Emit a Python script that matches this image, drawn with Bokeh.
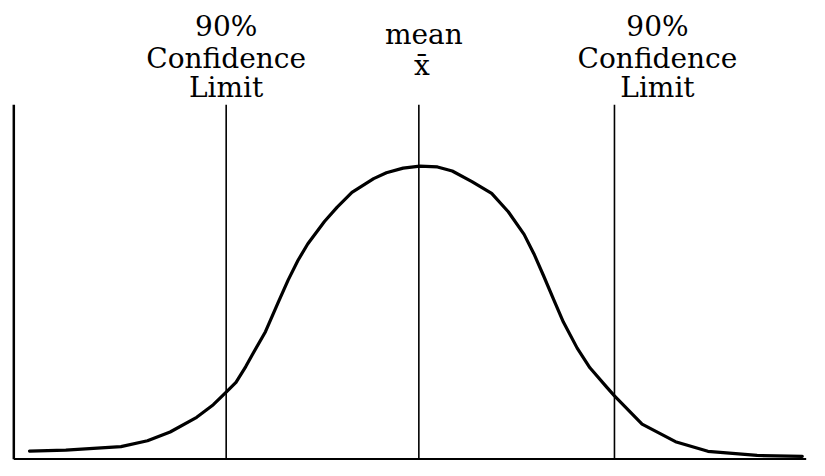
from bokeh.plotting import figure
from bokeh.models import Range1d
from bokeh.embed import file_html
from bokeh.resources import INLINE
from bokeh.core.properties import value

# Curve: x in standard units from the mean, y relative to the peak
curve_x = [-3.300, -2.992, -2.525, -2.300, -2.108, -1.883, -1.742, -1.633, -1.550,
           -1.467, -1.408, -1.300, -1.192, -1.108, -1.025, -0.942, -0.800, -0.692,
           -0.567, -0.383, -0.275, -0.133, 0.008, 0.158, 0.283, 0.450, 0.617, 0.758,
           0.892, 0.975, 1.058, 1.142, 1.225, 1.342, 1.450, 1.592, 1.658, 1.892,
           2.175, 2.450, 2.867, 3.250]
curve_y = [0.028, 0.031, 0.043, 0.063, 0.093, 0.143, 0.186, 0.229, 0.262,
           0.316, 0.359, 0.435, 0.535, 0.611, 0.678, 0.734, 0.811, 0.860,
           0.910, 0.957, 0.977, 0.993, 1.000, 0.997, 0.983, 0.947, 0.907, 0.844,
           0.767, 0.701, 0.625, 0.545, 0.468, 0.379, 0.312, 0.246, 0.216, 0.120,
           0.060, 0.027, 0.013, 0.010]

# Reference lines (lower limit, mean, upper limit)
ref_x = [-1.633, 0.0, 1.658]

# Texts
limit_label = ["90%", "Confidence", "Limit"]
mean_label = ["mean", "x\u0304"]

# Frame extents
axis_left = -3.433
axis_right = 3.283
line_top = 1.209

FONT = value("DejaVu Serif")
SIZE = "28px"

p = figure(width=809, height=460, output_backend="svg", toolbar_location=None,
           x_range=Range1d(-3.5458, 3.3111), y_range=Range1d(-0.00426, 1.5646),
           x_axis_location=None, y_axis_location=None, min_border=0)
p.grid.visible = False
p.outline_line_color = None
p.background_fill_color = "white"

# axes drawn as lines
p.segment(x0=[axis_left], y0=[0], x1=[axis_left], y1=[line_top],
          line_color="black", line_width=2.5)
p.segment(x0=[axis_left], y0=[0], x1=[axis_right], y1=[0],
          line_color="black", line_width=2.5)

# vertical reference lines
p.segment(x0=ref_x, y0=[0] * len(ref_x), x1=ref_x, y1=[line_top] * len(ref_x),
          line_color="black", line_width=1.6)

# the curve
p.line(curve_x, curve_y, line_color="black", line_width=3.2,
       line_join="round", line_cap="round")

# labels
limit_y = [1.4756, 1.3678, 1.268]
p.text(x=[ref_x[0]] * 3, y=limit_y, text=limit_label, text_font=FONT,
       text_font_size=SIZE, text_align="center", text_baseline="alphabetic",
       text_color="black", x_offset=0)
p.text(x=[ref_x[2]] * 3, y=limit_y, text=limit_label, text_font=FONT,
       text_font_size=SIZE, text_align="center", text_baseline="alphabetic",
       text_color="black", x_offset=43)
p.text(x=[ref_x[1]], y=[1.449], text=[mean_label[0]], text_font=FONT,
       text_font_size=SIZE, text_align="center", text_baseline="alphabetic",
       text_color="black", x_offset=5)
p.text(x=[ref_x[1]], y=[1.3428], text=[mean_label[1]], text_font=FONT,
       text_font_size=SIZE, text_align="center", text_baseline="alphabetic",
       text_color="black", x_offset=3)

open("out.html", "w").write(file_html(p, INLINE))
